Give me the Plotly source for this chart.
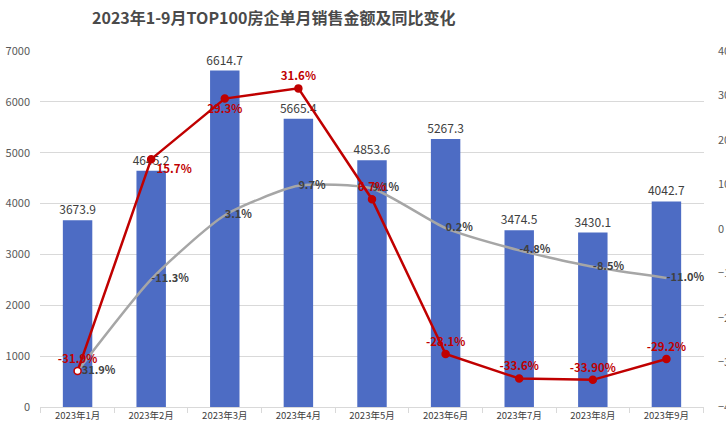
import plotly.graph_objects as go

months = ["2023年1月", "2023年2月", "2023年3月", "2023年4月", "2023年5月",
          "2023年6月", "2023年7月", "2023年8月", "2023年9月"]
sales = [3673.9, 4645.2, 6614.7, 5665.4, 4853.6, 5267.3, 3474.5, 3430.1, 4042.7]
monthly_yoy = [-31.9, 15.7, 29.3, 31.6, 6.7, -28.1, -33.6, -33.9, -29.2]
monthly_yoy_text = ["-31.9%", "15.7%", "29.3%", "31.6%", "6.7%", "-28.1%", "-33.6%", "-33.90%", "-29.2%"]
cum_yoy = [-31.9, -11.3, 3.1, 9.7, 9.1, 0.2, -4.8, -8.5, -11.0]
cum_yoy_text = ["-31.9%", "-11.3%", "3.1%", "9.7%", "9.1%", "0.2%", "-4.8%", "-8.5%", "-11.0%"]
left_ticks = [0, 1000, 2000, 3000, 4000, 5000, 6000, 7000]
right_ticks = [-40, -30, -20, -10, 0, 10, 20, 30, 40]

FONT = "Noto Sans CJK SC"
RED = "#C00000"
GRAY = "#A6A6A6"
BLUE = "#4D6CC4"

fig = go.Figure()

fig.add_trace(go.Bar(
    x=months, y=sales, marker=dict(color=BLUE, line=dict(width=0)),
    width=0.4, text=[f"{v:.1f}" for v in sales], textposition="outside",
    constraintext="none",
    textfont=dict(family=FONT, size=12, color="#404040"), cliponaxis=False,
    showlegend=False, hoverinfo="skip"))

fig.add_trace(go.Scatter(
    x=months, y=cum_yoy, yaxis="y2", mode="lines+text",
    line=dict(color=GRAY, width=2.5, shape="spline", smoothing=0.6),
    text=cum_yoy_text, textposition="middle right",
    textfont=dict(family=FONT, size=11, color="#404040", weight="bold"),
    cliponaxis=False, showlegend=False))

red_pos = ["top center", "bottom right", "bottom center", "top center", "top center",
           "top center", "top center", "top center", "top center"]
fig.add_trace(go.Scatter(
    x=months, y=monthly_yoy, yaxis="y2", mode="lines+markers+text",
    line=dict(color=RED, width=2.5),
    marker=dict(size=7, color=["white"] + [RED] * 8, line=dict(color=RED, width=1.5)),
    text=monthly_yoy_text, textposition=red_pos,
    textfont=dict(family=FONT, size=11.5, color=RED, weight="bold"),
    cliponaxis=False, showlegend=False))

fig.update_layout(
    width=726, height=429,
    margin=dict(l=40, r=22, t=51, b=22, autoexpand=False),
    paper_bgcolor="white", plot_bgcolor="white",
    font=dict(family=FONT, size=12, color="#595959"),
    title=dict(text="<b>2023年1-9月TOP100房企单月销售金额及同比变化</b>",
               x=0.377, xanchor="center", y=0.958, yanchor="middle",
               font=dict(family=FONT, size=16, color="#4a4a4a")),
    bargap=0.6,
    xaxis=dict(type="category", showgrid=False, showline=True, linecolor="#D9D9D9",
               ticks="outside", tickson="boundaries", ticklen=5, tickcolor="#D9D9D9",
               tickfont=dict(family=FONT, size=9.5, color="#404040"), automargin=False),
    yaxis=dict(range=[0, 7000], tickvals=left_ticks, showgrid=True, gridcolor="#D9D9D9",
               zeroline=False, showline=False, ticks="", ticklabelstandoff=9,
               tickfont=dict(family=FONT, size=11, color="#595959"), automargin=False),
    yaxis2=dict(range=[-40, 40], tickvals=right_ticks, ticksuffix="%", overlaying="y",
                side="right", showgrid=False, zeroline=False, showline=False,
                tickfont=dict(family=FONT, size=11, color="#595959"), automargin=False,
                ticklabelstandoff=13),
)

fig.write_html("out.html", config={"displayModeBar": False},
               post_script="document.body.style.margin='0';document.body.style.padding='0';"
                           "document.body.style.overflow='hidden';")
